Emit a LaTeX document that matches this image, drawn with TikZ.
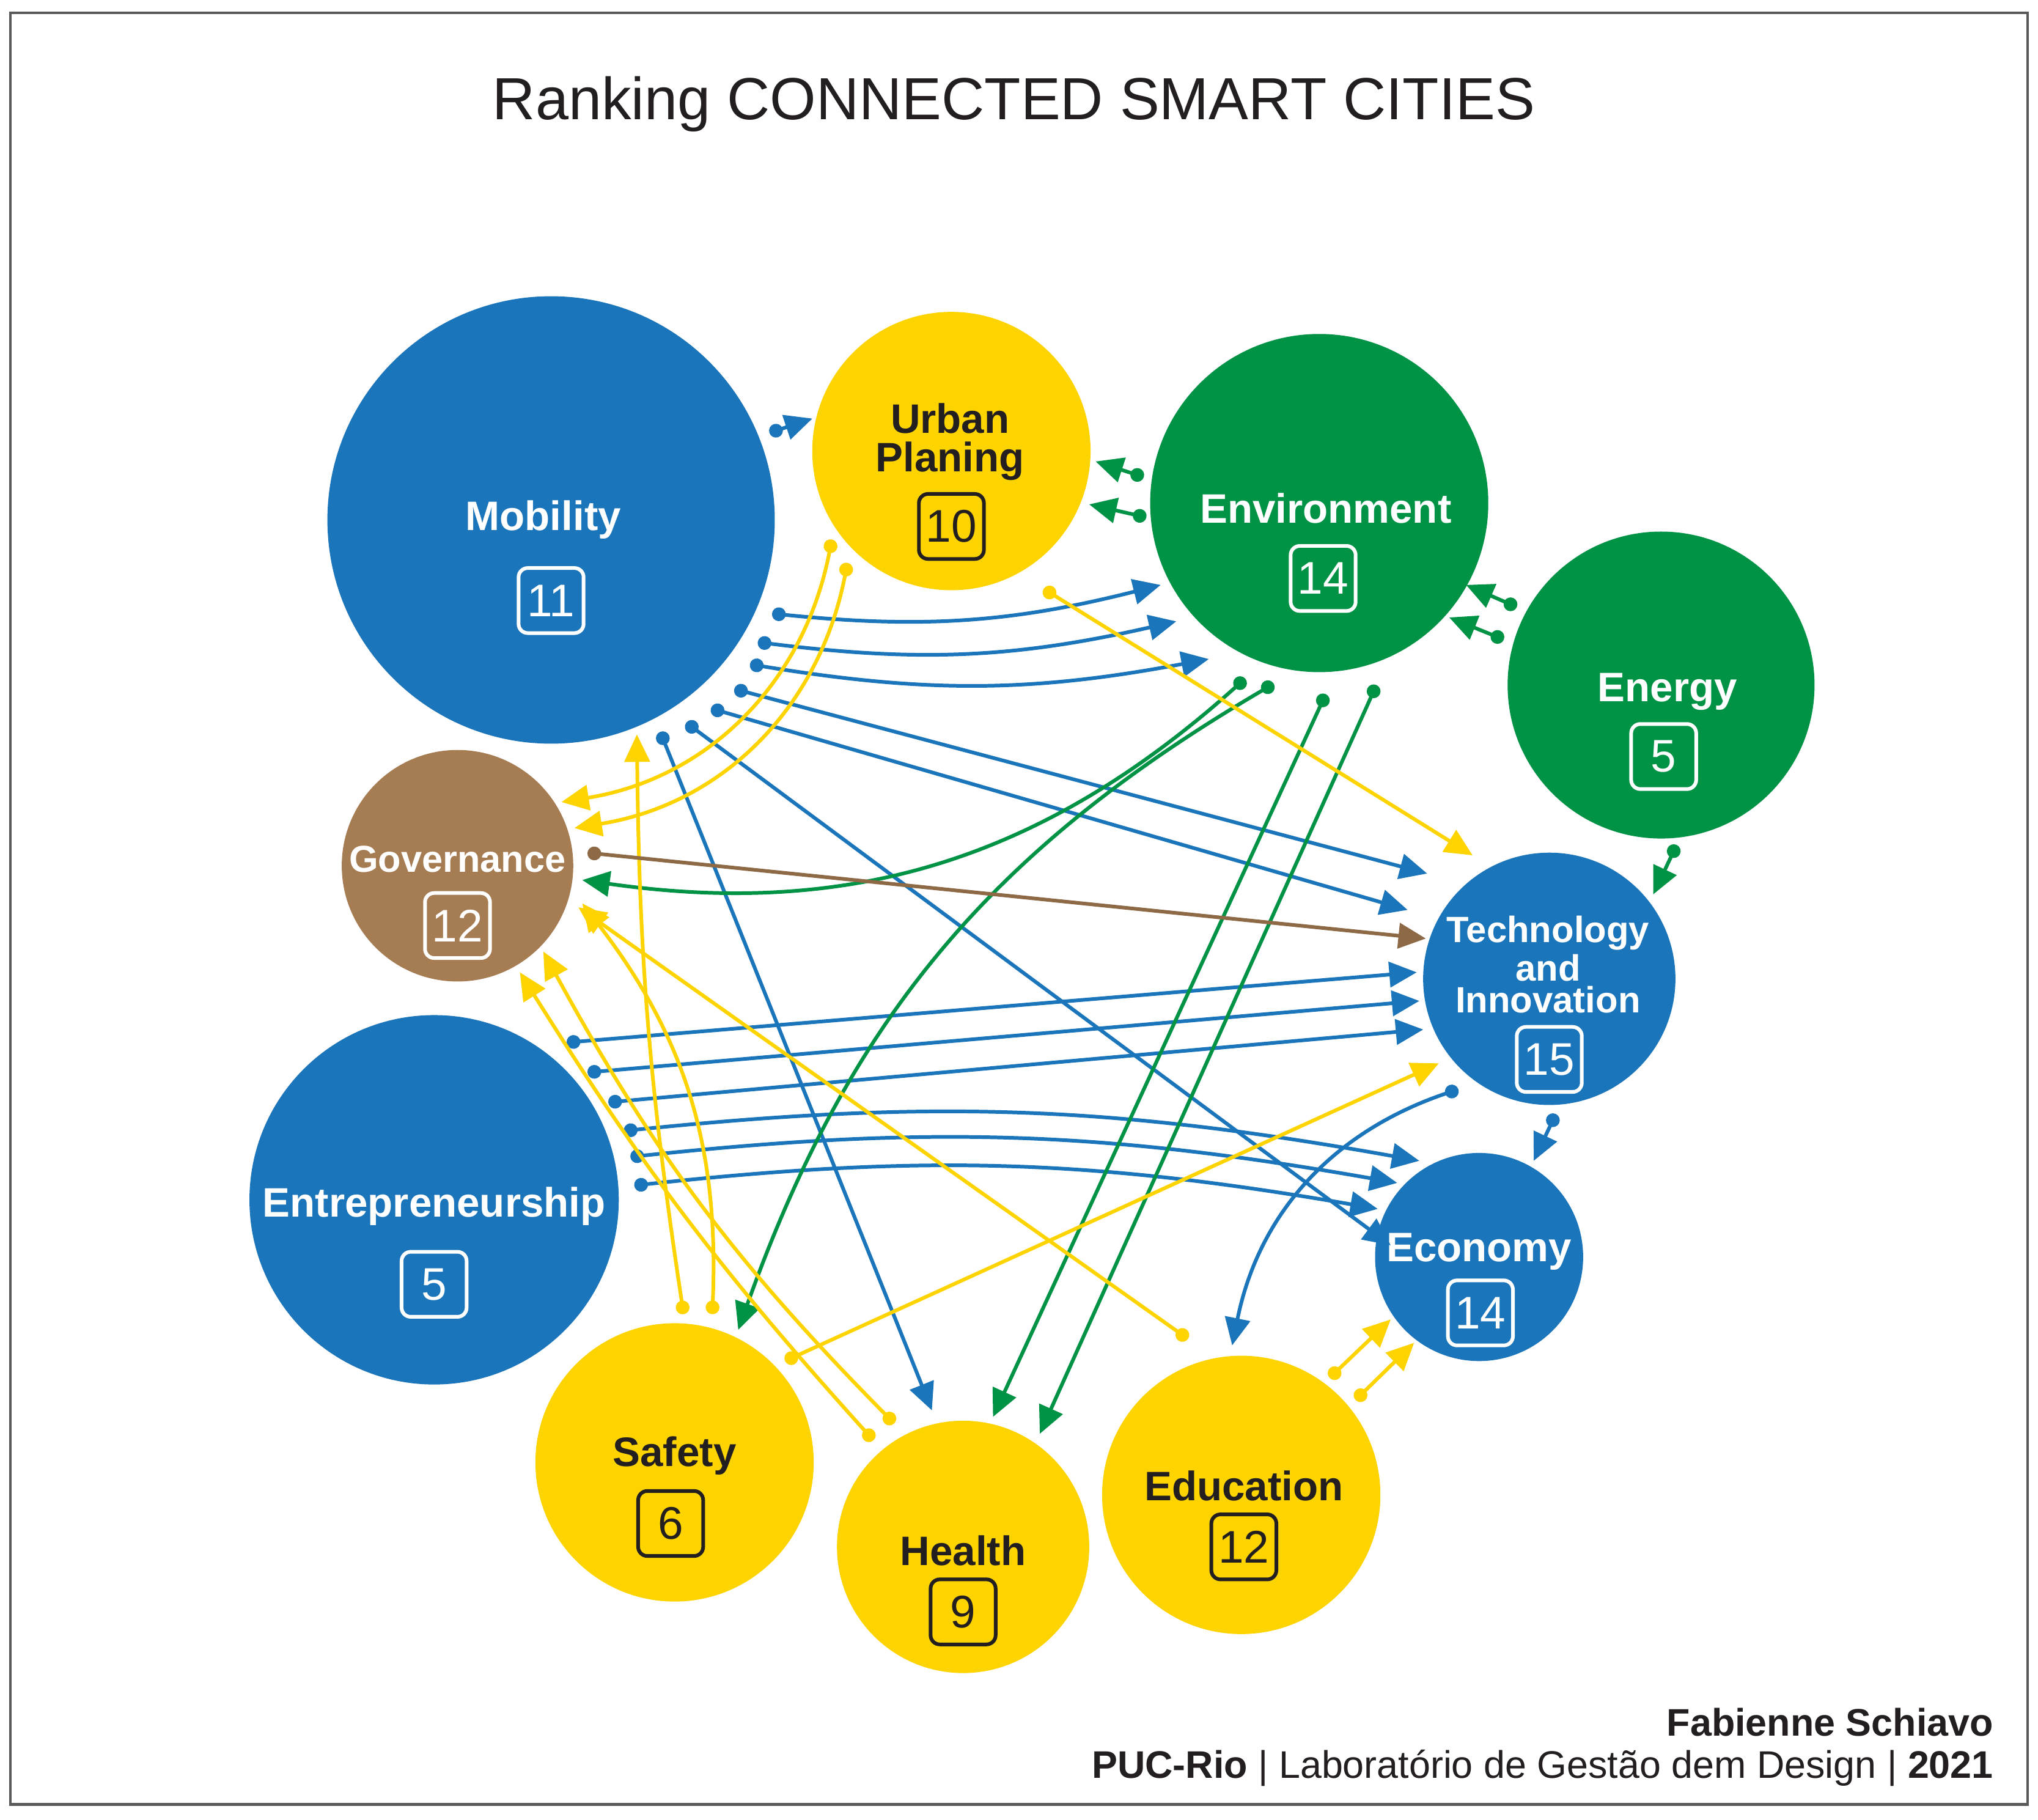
\documentclass[tikz,border=0pt]{standalone}
\usepackage{fontspec}
\setmainfont{Liberation Sans}
\usetikzlibrary{arrows.meta}
\definecolor{cblue}{HTML}{1B75BB}
\definecolor{cyel}{HTML}{FDD300}
\definecolor{cgreen}{HTML}{009345}
\definecolor{cbrown}{HTML}{A67C52}
\definecolor{ctext}{HTML}{231F20}
\tikzset{
 bub/.style={circle,inner sep=0pt},
 lab/.style={font=\fontsize{9}{10}\selectfont\bfseries,align=center,text=white},
 ylab/.style={lab,text=ctext},
 num/.style={draw=white,text=white,rounded corners=2pt,line width=0.8pt,minimum size=0.5cm,inner sep=0pt,font=\fontsize{10}{10}\selectfont},
 ynum/.style={num,draw=ctext,text=ctext},
 con/.style={line width=0.8pt,{Circle[length=3pt]}-{Triangle[length=6pt,width=5.5pt]}},
}
\begin{document}
\begin{tikzpicture}[x=0.01cm,y=-0.01cm]
\useasboundingbox (0,0) rectangle (1568,1400);
\fill[white] (0,0) rectangle (1568,1400);
\draw[gray!70!black,line width=0.6pt] (8,10) rectangle (1560,1388);
\node[font=\fontsize{13}{14}\selectfont,text=ctext] (title) at (780,80) {Ranking CONNECTED SMART CITIES};
% bubbles
\node[bub,fill=cblue,minimum size=3.44cm] (mob) at (424,400) {};
\node[bub,fill=cyel,minimum size=2.14cm] (urb) at (732,347) {};
\node[bub,fill=cgreen,minimum size=2.60cm] (env) at (1015,387) {};
\node[bub,fill=cgreen,minimum size=2.36cm] (ene) at (1278,527) {};
\node[bub,fill=cblue,minimum size=1.94cm] (tec) at (1192,753) {};
\node[bub,fill=cblue,minimum size=1.60cm] (eco) at (1138,967) {};
\node[bub,fill=cyel,minimum size=2.14cm] (edu) at (955,1150) {};
\node[bub,fill=cyel,minimum size=1.94cm] (hea) at (741,1190) {};
\node[bub,fill=cyel,minimum size=2.14cm] (saf) at (519,1125) {};
\node[bub,fill=cblue,minimum size=2.84cm] (ent) at (334,923) {};
\node[bub,fill=cbrown,minimum size=1.78cm] (gov) at (352,666) {};
% labels
\node[lab] (mobl) at (418,400) {Mobility};
\node[num] (mobn) at (424,462) {11};
\node[ylab,font=\fontsize{9}{8.5}\selectfont\bfseries] (urbl) at (731,340) {Urban\\Planing};
\node[ynum] (urbn) at (732,405) {10};
\node[lab] (envl) at (1020,391) {Environment};
\node[num] (envn) at (1018,445) {14};
\node[lab] (enel) at (1283,532) {Energy};
\node[num] (enen) at (1280,582) {5};
\node[lab,font=\fontsize{8}{7}\selectfont\bfseries] (tecl) at (1191,742) {Technology\\and\\Innovation};
\node[num] (tecn) at (1192,815) {15};
\node[lab] (ecol) at (1138,963) {Economy};
\node[num] (econ) at (1139,1010) {14};
\node[ylab] (edul) at (957,1143) {Education};
\node[ynum] (edun) at (957,1190) {12};
\node[ylab] (heal) at (741,1193) {Health};
\node[ynum] (hean) at (741,1240) {9};
\node[ylab] (safl) at (519,1120) {Safety};
\node[ynum] (safn) at (516,1172) {6};
\node[lab] (entl) at (334,928) {Entrepreneurship};
\node[num] (entn) at (334,988) {5};
\node[lab,font=\fontsize{8.2}{9}\selectfont\bfseries] (govl) at (352,661) {Governance};
\node[num] (govn) at (352,712) {12};
% blue connectors
\begin{scope}[cblue]
\draw[con] (592,333) -- (625,322);
\draw[con] (594,472) to[bend right=10] (893,450);
\draw[con] (583,494) to[bend right=10] (905,478);
\draw[con] (577,511) to[bend right=10] (930,507);
\draw[con] (565,530) -- (1098,672);
\draw[con] (547,545) -- (1083,700);
\draw[con] (508,563) -- (717,1085);
\draw[con] (528,556) -- (1070,958);
\draw[con] (436,802) -- (1090,748);
\draw[con] (452,825) -- (1092,770);
\draw[con] (468,848) -- (1095,792);
\draw[con] (480,870) to[bend left=8] (1092,893);
\draw[con] (485,890) to[bend left=8] (1075,910);
\draw[con] (488,912) to[bend left=8] (1060,930);
\draw[con] (1197,857) -- (1180,893);
\draw[con] (1122,838) to[bend right=30] (948,1035);
\end{scope}
% green connectors
\begin{scope}[cgreen]
\draw[con] (880,367) -- (843,355);
\draw[con] (882,398) -- (838,388);
\draw[con] (1167,467) -- (1128,450);
\draw[con] (1157,492) -- (1115,475);
\draw[con] (1290,650) -- (1272,688);
\draw[con] (958,522) to[bend left=25] (448,677);
\draw[con] (980,526) to[bend right=20] (568,1023);
\draw[con] (1020,534) -- (764,1090);
\draw[con] (1059,527) -- (800,1103);
\end{scope}
% yellow connectors
\begin{scope}[cyel]
\draw[con] (640,415) to[bend left=35] (432,617);
\draw[con] (652,433) to[bend left=35] (442,637);
\draw[con] (803,453) -- (1133,658);
\draw[con] (526,1011) to[bend left=4] (490,565);
\draw[con] (548,1011) to[bend right=20] (448,695);
\draw[con] (604,1047) -- (1107,818);
\draw[con] (688,1095) to[bend left=8] (418,732);
\draw[con] (672,1108) to[bend left=5] (400,748);
\draw[con] (914,1030) -- (445,698);
\draw[con] (1023,1060) -- (1070,1015);
\draw[con] (1043,1077) -- (1088,1033);
\end{scope}
\draw[con,cbrown!85!black] (452,656) -- (1097,722);
% footer
\node[anchor=east,font=\fontsize{8.4}{10}\selectfont\bfseries,text=ctext] (auth) at (1546,1325) {Fabienne Schiavo};
\node[anchor=east,font=\fontsize{8.4}{10}\selectfont,text=ctext] (inst) at (1546,1360) {\textbf{PUC-Rio} | Laboratório de Gestão dem Design | \textbf{2021}};
\end{tikzpicture}
\end{document}
